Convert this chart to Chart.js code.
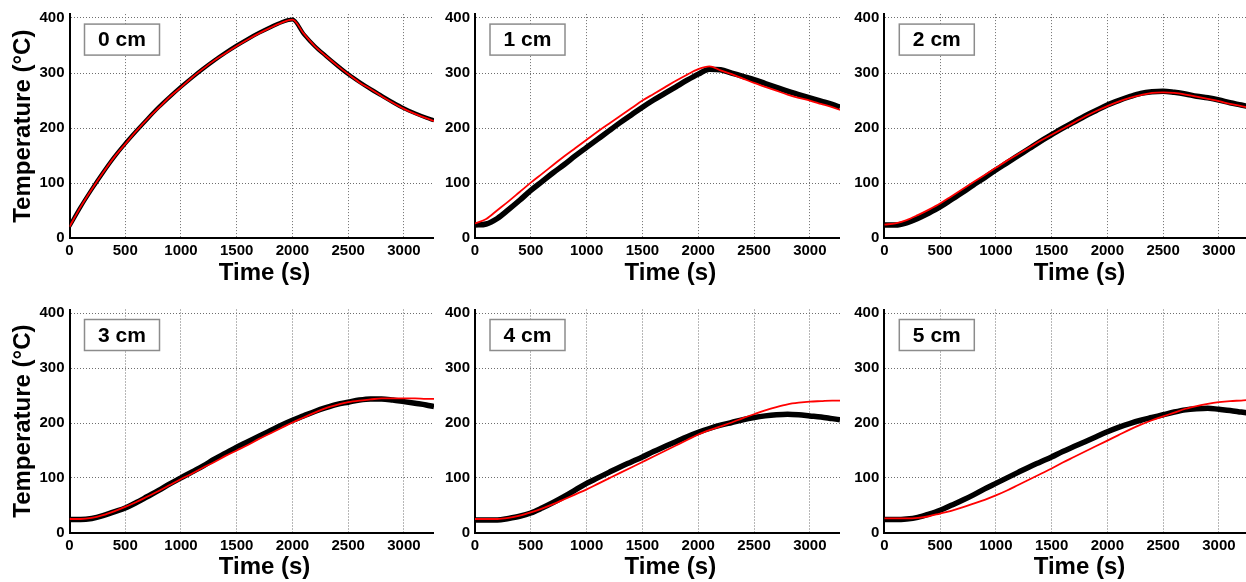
<!DOCTYPE html>
<html>
<head>
<meta charset="utf-8">
<title>Temperature vs time at depth</title>
<script src="https://cdn.jsdelivr.net/npm/chart.js@4.4.1/dist/chart.umd.min.js"></script>
<style>
  html, body { margin: 0; padding: 0; background: #fff; overflow: hidden; }
  #wrap { position: relative; width: 1246px; height: 582px; overflow: hidden; }
  .panel { position: absolute; }
</style>
</head>
<body>
<div id="wrap">
  <canvas id="p0" class="panel" width="434" height="290" style="left:0px;top:0px"></canvas>
  <canvas id="p1" class="panel" width="400" height="290" style="left:440px;top:0px"></canvas>
  <canvas id="p2" class="panel" width="400" height="290" style="left:849px;top:0px"></canvas>
  <canvas id="p3" class="panel" width="434" height="292" style="left:0px;top:290px"></canvas>
  <canvas id="p4" class="panel" width="400" height="292" style="left:440px;top:290px"></canvas>
  <canvas id="p5" class="panel" width="400" height="292" style="left:849px;top:290px"></canvas>
</div>
<script>
// sample times (s), shared by every series
const timeS = [0, 100, 200, 300, 400, 500, 600, 700, 800, 900, 1000, 1100, 1200, 1300, 1400, 1500, 1600,
  1700, 1800, 1900, 2000, 2100, 2200, 2300, 2400, 2500, 2600, 2700, 2800, 2900, 3000, 3100, 3200, 3270];

const xTicks = [0, 500, 1000, 1500, 2000, 2500, 3000];
const yTicks = [0, 100, 200, 300, 400];
const depthLabels = ['0 cm', '1 cm', '2 cm', '3 cm', '4 cm', '5 cm'];

// measured temperatures (black markers), °C
const measured0cm = [22, 57, 89, 119, 147, 172, 195, 217, 238, 257, 275, 292, 308, 323, 337, 350, 362,
  373, 383, 392, 397, 371, 349, 331, 314, 298, 284, 271, 259, 247, 236, 227, 219, 214];
const measured1cm = [24, 26, 36, 52, 69, 87, 103, 119, 134, 150, 165, 180, 195, 210, 224, 238, 251,
  263, 275, 287, 298, 307, 306, 300, 294, 288, 281, 274, 267, 261, 255, 249, 243, 238];
const measured2cm = [24, 24, 28, 36, 46, 57, 70, 83, 97, 110, 124, 137, 150, 163, 176, 188, 200,
  211, 222, 232, 242, 250, 257, 263, 266, 267, 265, 262, 258, 255, 251, 246, 242, 239];
const measured3cm = [24, 24, 26, 31, 38, 45, 55, 66, 77, 89, 100, 111, 122, 134, 145, 156, 166,
  176, 186, 196, 205, 213, 221, 228, 234, 238, 242, 244, 244, 242, 239, 236, 233, 230];
const measured4cm = [23, 23, 23, 26, 30, 36, 45, 55, 66, 78, 90, 100, 110, 120, 129, 138, 148,
  157, 166, 175, 183, 190, 196, 201, 206, 210, 213, 215, 216, 215, 213, 211, 208, 206];
const measured5cm = [24, 24, 25, 28, 34, 41, 50, 59, 69, 80, 90, 100, 110, 120, 129, 138, 148,
  157, 166, 175, 184, 192, 199, 205, 210, 215, 220, 224, 226, 227, 225, 223, 220, 218];

// model temperatures (red line), °C
const model0cm = [21, 57, 89, 119, 147, 171, 195, 217, 237, 257, 274, 292, 308, 323, 336, 349, 361,
  372, 382, 391, 397, 372, 349, 331, 314, 298, 283, 271, 258, 246, 235, 226, 218, 213];
const model1cm = [27, 35, 51, 67, 84, 101, 117, 133, 149, 164, 179, 194, 208, 222, 236, 250, 262,
  274, 286, 297, 307, 312, 305, 298, 290, 282, 275, 268, 261, 255, 250, 244, 238, 233];
const model2cm = [25, 27, 33, 42, 52, 63, 76, 89, 102, 115, 128, 141, 153, 165, 177, 188, 199,
  210, 221, 231, 240, 248, 255, 260, 264, 265, 264, 261, 257, 253, 249, 244, 240, 237];
const model3cm = [25, 25, 27, 32, 39, 47, 56, 66, 76, 87, 98, 108, 119, 129, 140, 150, 160,
  171, 181, 191, 201, 210, 219, 227, 233, 238, 241, 243, 245, 245, 245, 245, 244, 244];
const model4cm = [25, 25, 25, 27, 31, 37, 44, 52, 61, 70, 79, 89, 99, 109, 119, 129, 139,
  149, 159, 169, 179, 187, 194, 201, 209, 216, 223, 229, 234, 237, 239, 240, 241, 241];
const model5cm = [26, 26, 26, 27, 30, 35, 40, 46, 53, 60, 68, 77, 87, 97, 107, 117, 128,
  138, 148, 158, 168, 178, 188, 197, 205, 212, 219, 226, 231, 235, 238, 240, 241, 242];

const measured = [measured0cm, measured1cm, measured2cm, measured3cm, measured4cm, measured5cm];
const model = [model0cm, model1cm, model2cm, model3cm, model4cm, model5cm];

const FONT = "'Liberation Sans', Arial, Helvetica, sans-serif";
Chart.defaults.font.family = FONT;
Chart.defaults.color = '#000';

// where each plot area sits inside its canvas
const layouts = [
  { axisW: 69.5, padTop: 14.1, xAxisH: 51.7, yTitle: true },
  { axisW: 35, padTop: 14.1, xAxisH: 51.7, yTitle: false },
  { axisW: 35.3, padTop: 14.1, xAxisH: 51.7, yTitle: false },
  { axisW: 69.5, padTop: 19.5, xAxisH: 49.3, yTitle: true },
  { axisW: 35, padTop: 19.5, xAxisH: 49.3, yTitle: false },
  { axisW: 35.3, padTop: 19.5, xAxisH: 49.3, yTitle: false }
];

// boxed depth label + x-axis title (the title sits a bit right of the visible axis centre)
const panelDecor = {
  id: 'panelDecor',
  afterDraw(chart, args, opts) {
    const { ctx, chartArea, scales } = chart;
    const bx = chartArea.left + 15, by = chartArea.top + 10;
    ctx.save();
    ctx.fillStyle = '#fff';
    ctx.fillRect(bx, by, 75, 31);
    ctx.strokeStyle = '#8c8c8c';
    ctx.lineWidth = 1.5;
    ctx.strokeRect(bx, by, 75, 31);
    ctx.fillStyle = '#000';
    ctx.textAlign = 'center';
    ctx.textBaseline = 'middle';
    ctx.font = 'bold 21px ' + FONT;
    ctx.fillText(opts.label, bx + 37.5, by + 16.5);
    ctx.font = 'bold 24px ' + FONT;
    ctx.fillText('Time (s)', scales.x.getPixelForValue(1750), chartArea.bottom + 35);
    ctx.restore();
  }
};

const toPoints = (vals) => timeS.map((t, k) => ({ x: t, y: vals[k] }));

layouts.forEach((p, i) => {
  new Chart(document.getElementById('p' + i), {
    type: 'line',
    data: {
      datasets: [
        {
          label: 'Model',
          data: toPoints(model[i]),
          borderColor: '#ff0000',
          borderWidth: 1.8,
          pointRadius: 0,
          cubicInterpolationMode: 'monotone',
          order: 1
        },
        {
          label: 'Measured',
          data: toPoints(measured[i]),
          borderColor: '#000',
          borderWidth: i === 0 ? 4 : 5.5,
          pointRadius: 0,
          cubicInterpolationMode: 'monotone',
          order: 2
        }
      ]
    },
    options: {
      responsive: false,
      animation: false,
      events: [],
      layout: { padding: { top: p.padTop, left: 0, right: 0, bottom: 0 } },
      plugins: {
        legend: { display: false },
        tooltip: { enabled: false },
        panelDecor: { label: depthLabels[i] }
      },
      scales: {
        x: {
          type: 'linear',
          min: 0,
          max: 3270,
          afterBuildTicks: (s) => { s.ticks = xTicks.map(v => ({ value: v })); },
          afterFit: (s) => { s.height = p.xAxisH; },
          grid: { color: '#6e6e6e', lineWidth: 1, drawTicks: false },
          border: { display: true, color: '#000', width: 2, dash: [1, 2] },
          ticks: {
            padding: 4, autoSkip: false, maxRotation: 0, color: '#000',
            font: { size: 15, weight: 'bold' },
            callback: (v) => String(v)
          }
        },
        y: {
          type: 'linear',
          min: 0,
          max: 407,
          afterBuildTicks: (s) => { s.ticks = yTicks.map(v => ({ value: v })); },
          afterFit: (s) => { s.width = p.axisW; },
          grid: { color: '#6e6e6e', lineWidth: 1, drawTicks: false },
          border: { display: true, color: '#000', width: 2, dash: [1, 2] },
          ticks: {
            padding: 5, color: '#000',
            font: { size: 15, weight: 'bold' },
            callback: (v) => String(v)
          },
          title: {
            display: p.yTitle,
            text: 'Temperature (°C)',
            color: '#000',
            font: { size: 24, weight: 'bold' },
            padding: { top: 8.6, bottom: 0 }
          }
        }
      }
    },
    plugins: [panelDecor]
  });
});
</script>
</body>
</html>
